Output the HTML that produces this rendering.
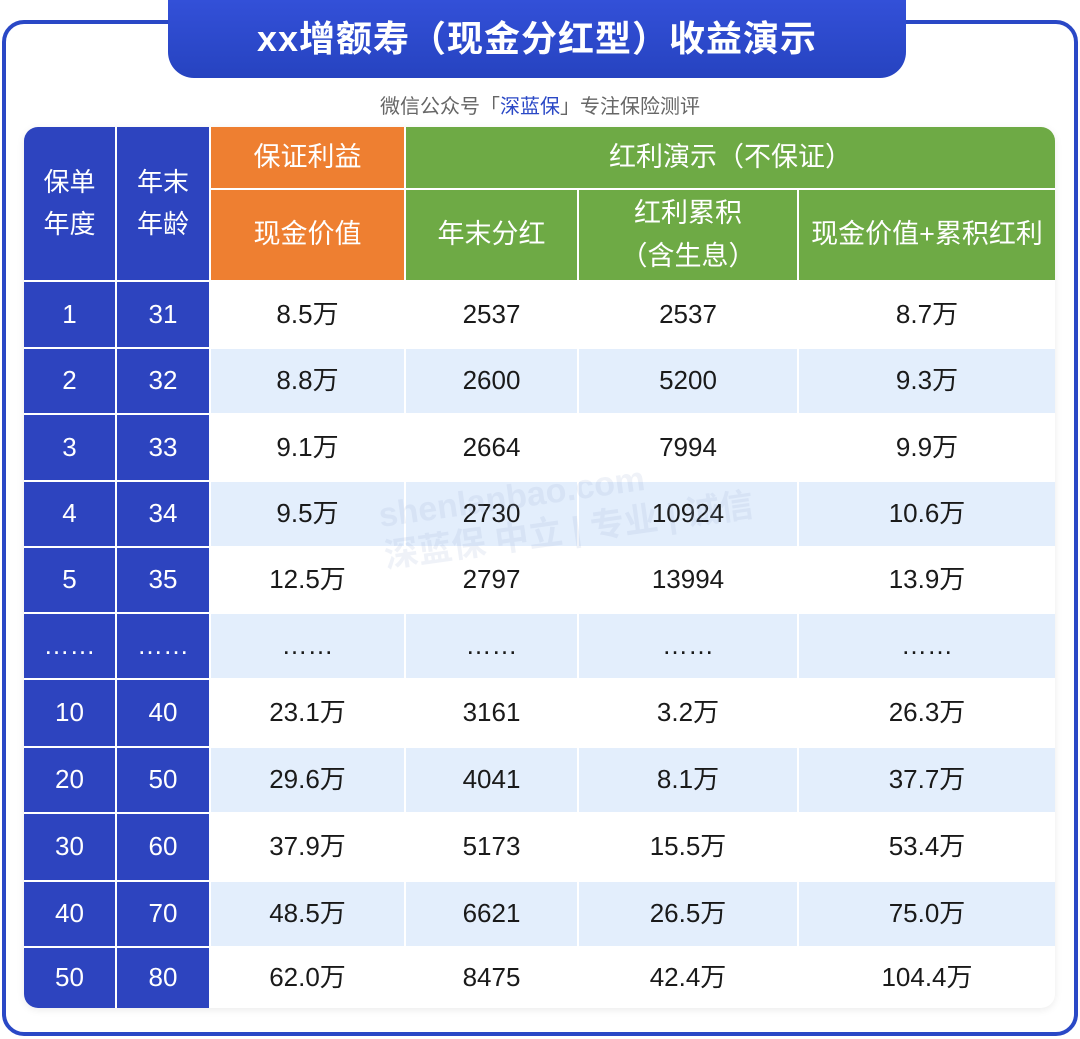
<!DOCTYPE html>
<html><head><meta charset="utf-8"><style>
*{margin:0;padding:0;box-sizing:border-box}
body{width:1080px;height:1039px;background:#fff;position:relative;overflow:hidden;font-family:"Liberation Sans","Noto Sans CJK SC",sans-serif}
.outer{position:absolute;left:2px;top:20px;width:1076px;height:1016px;border:4px solid #2a48c6;border-radius:22px}
.tab{position:absolute;left:168px;top:0;width:738px;height:78px;background:linear-gradient(#3350d8,#2643c0);border-radius:0 0 26px 26px;color:#fff;font-weight:bold;font-size:36px;text-align:center;line-height:78px;letter-spacing:1px}
.sub{position:absolute;left:0;width:1080px;top:90px;text-align:center;font-size:20px;color:#666}
.sub b{color:#2a48c6;font-weight:normal}
.tbl{position:absolute;left:24px;top:127px;width:1031px;height:881px;border-radius:14px;overflow:hidden;background:#fff;box-shadow:0 2px 8px rgba(0,0,0,.08)}
.c{position:absolute;display:flex;align-items:center;justify-content:center;text-align:center;font-size:26px;color:#1a1a1a;line-height:1.6}
.b{background:#2d44bf;color:#fff}
.o{background:#ee7f31;color:#fff;font-size:27px}
.g{background:#6eaa45;color:#fff;font-size:27px}
.lb{background:#e3eefc}
.wm{position:absolute;left:380px;top:470px;font-size:34px;color:rgba(150,170,210,.15);transform:rotate(-8deg);font-weight:bold;line-height:1.2}
</style></head><body>
<div class="outer"></div>
<div class="tab">xx增额寿（现金分红型）收益演示</div>
<div class="sub">微信公众号「<b>深蓝保</b>」专注保险测评</div>
<div class="tbl" id="t"></div>
<script>
var t=document.getElementById('t');
var X=[0,91,185,380,553,773,1031];
function cell(x1,x2,y1,y2,cls,txt){var d=document.createElement('div');d.className='c '+cls;d.style.left=(X[x1]+(x1?2:0))+'px';d.style.width=(X[x2]-X[x1]-(x1?2:0))+'px';d.style.top=y1+'px';d.style.height=(y2-y1)+'px';d.innerHTML=txt;t.appendChild(d);}
cell(0,1,0,153,'b','保单<br>年度');cell(1,2,0,153,'b','年末<br>年龄');
cell(2,3,0,61,'o','保证利益');cell(2,3,63,153,'o','现金价值');
cell(3,6,0,61,'g','红利演示（不保证）');
cell(3,4,63,153,'g','年末分红');cell(4,5,63,153,'g','红利累积<br>（含生息）');cell(5,6,63,153,'g','现金价值+累积红利');
var rows=[['1','31','8.5万','2537','2537','8.7万'],['2','32','8.8万','2600','5200','9.3万'],['3','33','9.1万','2664','7994','9.9万'],['4','34','9.5万','2730','10924','10.6万'],['5','35','12.5万','2797','13994','13.9万'],['……','……','……','……','……','……'],['10','40','23.1万','3161','3.2万','26.3万'],['20','50','29.6万','4041','8.1万','37.7万'],['30','60','37.9万','5173','15.5万','53.4万'],['40','70','48.5万','6621','26.5万','75.0万'],['50','80','62.0万','8475','42.4万','104.4万']];
var Y=[155,222,288,355,421,487,553,621,687,755,821,881];
rows.forEach(function(r,i){var y1=Y[i],y2=Y[i+1]-2;if(i==10)y2=881;
for(var j=0;j<6;j++){var cls=j<2?'b':(i%2?'lb':'');cell(j,j+1,y1,y2,cls,r[j]);}});
</script>
<div class="wm">shenlanbao.com<br>深蓝保 中立 | 专业 | 诚信</div>
</body></html>
